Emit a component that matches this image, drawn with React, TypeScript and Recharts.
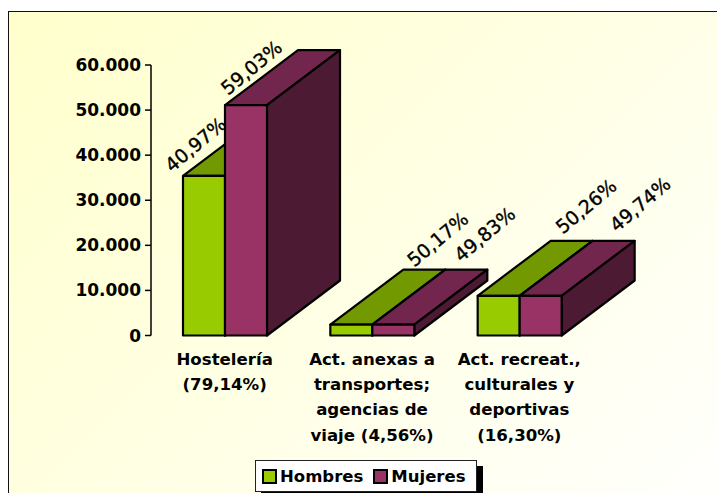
import { BarChart, Bar, XAxis, YAxis, Legend, LabelList } from "recharts";

const categories = [
  "Hostelería\n(79,14%)",
  "Act. anexas a\ntransportes;\nagencias de\nviaje (4,56%)",
  "Act. recreat.,\nculturales y\ndeportivas\n(16,30%)",
];
const hombres = [35400, 2400, 8800];
const mujeres = [51100, 2400, 8800];
const hombresPct = ["40,97%", "50,17%", "50,26%"];
const mujeresPct = ["59,03%", "49,83%", "49,74%"];
const yTicks = [0, 10000, 20000, 30000, 40000, 50000, 60000];

const rows = categories.map((name, i) => ({
  name,
  hombres: hombres[i],
  mujeres: mujeres[i],
  hombresPct: hombresPct[i],
  mujeresPct: mujeresPct[i],
}));

const FONT = '"DejaVu Sans", sans-serif';
const DEPTH_X = 73;
const DEPTH_Y = 55;

// where each rotated label starts, relative to the top left of its bar
const hombresLabelShift = [[-11, -3], [84, -57], [85, -61]];
const mujeresLabelShift = [[3, -9], [89, -62], [97, -63]];

function Box3D({ x, y, width, height, fill, topFill, sideFill }: any) {
  const r = x + width;
  const b = y + height;
  const line = { stroke: "#000", strokeWidth: 2.2, strokeLinejoin: "round" as const };
  return (
    <g>
      <path
        d={`M${x},${y} L${x + DEPTH_X},${y - DEPTH_Y} L${r + DEPTH_X},${y - DEPTH_Y} L${r},${y} Z`}
        fill={topFill}
        {...line}
      />
      <path
        d={`M${r},${y} L${r + DEPTH_X},${y - DEPTH_Y} L${r + DEPTH_X},${b - DEPTH_Y} L${r},${b} Z`}
        fill={sideFill}
        {...line}
      />
      <rect x={x} y={y} width={width} height={height} fill={fill} {...line} />
    </g>
  );
}

function pctLabel(shifts: number[][]) {
  return (props: any) => {
    const box = props.viewBox ?? props;
    const [dx, dy] = shifts[props.index];
    const px = box.x + dx;
    const py = box.y + dy;
    return (
      <text
        x={px}
        y={py}
        fontFamily={FONT}
        fontSize={19}
        fill="#000"
        stroke="#000"
        strokeWidth={0.35}
        transform={`rotate(-40 ${px} ${py})`}
      >
        {props.value}
      </text>
    );
  };
}

function CategoryTick({ x, y, payload }: any) {
  const lines = String(payload.value).split("\n");
  return (
    <text x={x} textAnchor="middle" fontFamily={FONT} fontSize={16.6} fontWeight="bold" fill="#000">
      {lines.map((l, i) => (
        <tspan key={l} x={x} y={y + 21 + i * 25.4}>
          {l}
        </tspan>
      ))}
    </text>
  );
}

function LegendBox({ payload }: any) {
  return (
    <div
      style={{
        display: "flex",
        alignItems: "center",
        boxSizing: "border-box",
        width: 222,
        height: 32,
        paddingLeft: 6,
        background: "#fff",
        border: "1px solid #222",
        boxShadow: "6px 6px 0 #000",
        fontFamily: FONT,
        fontSize: 16.5,
        fontWeight: "bold",
      }}
    >
      {(payload ?? []).map((p: any) => (
        <span key={p.value} style={{ display: "flex", alignItems: "center", marginRight: 10 }}>
          <span
            style={{
              width: 11,
              height: 11,
              marginRight: 3,
              background: p.color,
              border: "2px solid #000",
            }}
          />
          {p.value}
        </span>
      ))}
    </div>
  );
}

export default function App() {
  return (
    <div style={{ position: "absolute", left: 0, top: 0, width: 717, height: 493, overflow: "hidden" }}>
      <div
        style={{
          position: "absolute",
          left: 8,
          top: 11,
          width: 709,
          height: 482,
          boxSizing: "border-box",
          borderLeft: "1.5px solid #111",
          borderTop: "1.5px solid #111",
          background: "linear-gradient(135deg, #FFFFCC 0%, #FFFFFD 100%)",
        }}
      />
      <div style={{ position: "absolute", left: 0, top: 0 }}>
        <BarChart
          width={717}
          height={493}
          data={rows}
          margin={{ top: 65, right: 124, bottom: 117.5, left: 0 }}
          barGap={0}
          barSize={42}
        >
          <XAxis
            dataKey="name"
            axisLine={false}
            tickLine={false}
            interval={0}
            height={40}
            tick={<CategoryTick />}
          />
          <YAxis
            domain={[0, 60000]}
            ticks={yTicks}
            width={151}
            interval={0}
            axisLine={{ stroke: "#000", strokeWidth: 1.5 }}
            tickLine={{ stroke: "#000", strokeWidth: 1.5 }}
            tickSize={6}
            tickMargin={4}
            tick={{ fontFamily: FONT, fontSize: 17, fontWeight: "bold", fill: "#000" }}
            tickFormatter={(v: number) => v.toLocaleString("de-DE")}
          />
          <Legend
            layout="vertical"
            align="center"
            verticalAlign="middle"
            content={<LegendBox />}
            wrapperStyle={{ left: 255, top: 460, width: 222, height: 32 }}
          />
          <Bar
            dataKey="hombres"
            name="Hombres"
            fill="#99CC00"
            isAnimationActive={false}
            shape={(p: any) => <Box3D {...p} topFill="#739900" sideFill="#4D6600" />}
          >
            <LabelList dataKey="hombresPct" content={pctLabel(hombresLabelShift)} />
          </Bar>
          <Bar
            dataKey="mujeres"
            name="Mujeres"
            fill="#993366"
            isAnimationActive={false}
            shape={(p: any) => <Box3D {...p} topFill="#73264D" sideFill="#4D1A33" />}
          >
            <LabelList dataKey="mujeresPct" content={pctLabel(mujeresLabelShift)} />
          </Bar>
        </BarChart>
      </div>
    </div>
  );
}
